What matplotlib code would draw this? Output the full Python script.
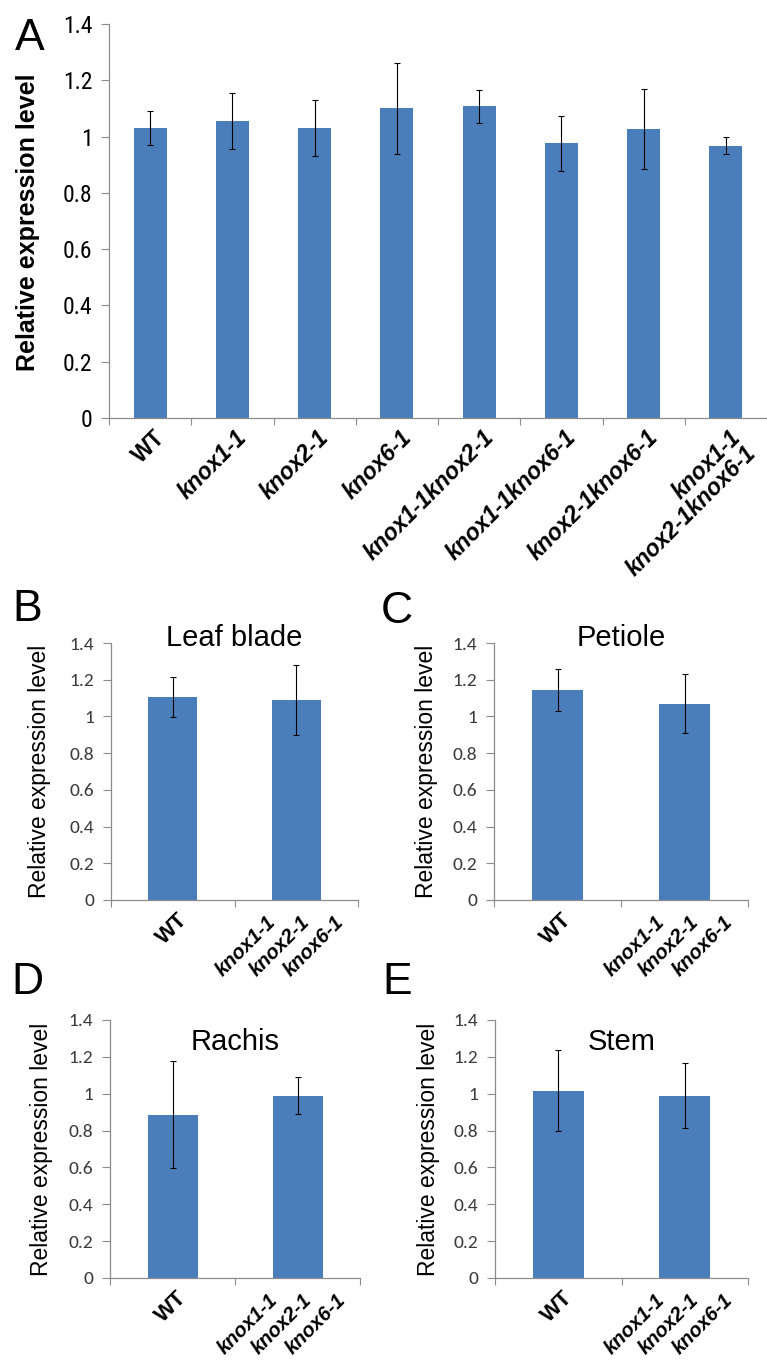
import matplotlib
matplotlib.use("Agg")
import matplotlib.pyplot as plt
import matplotlib.transforms as mtransforms
from matplotlib import font_manager
import numpy as np

W, H = 767, 1362
BAR_COLOR = "#4a7ebb"
AXIS_COLOR = "#8c8c8c"

# panel A: whole seedlings, all genotypes
a_labels = ["WT", "knox1-1", "knox2-1", "knox6-1", "knox1-1knox2-1",
            "knox1-1knox6-1", "knox2-1knox6-1", "knox1-1\nknox2-1knox6-1"]
a_values = [1.03, 1.055, 1.03, 1.10, 1.107, 0.976, 1.026, 0.967]
a_errors = [0.06, 0.10, 0.10, 0.163, 0.06, 0.097, 0.142, 0.03]

# panels B-E: WT vs triple mutant per tissue
tissue_labels = ["WT", "knox1-1\nknox2-1\nknox6-1"]
leaf_values = [1.105, 1.088]
leaf_errors = [0.11, 0.19]
petiole_values = [1.145, 1.07]
petiole_errors = [0.115, 0.16]
rachis_values = [0.885, 0.99]
rachis_errors = [0.29, 0.10]
stem_values = [1.015, 0.99]
stem_errors = [0.22, 0.175]

yticks = [0, 0.2, 0.4, 0.6, 0.8, 1.0, 1.2, 1.4]


def pick(*names):
    have = {f.name for f in font_manager.fontManager.ttflist}
    for n in names:
        if n in have:
            return n
    return "DejaVu Sans"


SANS = pick("Liberation Sans", "Arial", "DejaVu Sans")
NARROW = pick("Liberation Sans Narrow", "Roboto Condensed", "Liberation Sans")
CALIBRI = pick("Carlito", "Calibri", "Lato", "Open Sans")

fig = plt.figure(figsize=(W / 100, H / 100), dpi=100)


def px_axes(left, top, right, bottom):
    return fig.add_axes([left / W, 1 - bottom / H, (right - left) / W, (bottom - top) / H])


def style_axes(ax, n, tick_font, tick_size, tick_color):
    for s in ("top", "right"):
        ax.spines[s].set_visible(False)
    for s in ("left", "bottom"):
        ax.spines[s].set_color(AXIS_COLOR)
        ax.spines[s].set_linewidth(0.9)
    ax.set_ylim(0, 1.4)
    ax.set_yticks(yticks)
    ax.set_yticklabels([f"{v:g}" for v in yticks], fontfamily=tick_font,
                       fontsize=tick_size, color=tick_color)
    ax.tick_params(axis="y", length=6, width=0.8, color=AXIS_COLOR, pad=6)
    ax.set_xlim(-0.5, n - 0.5)
    ax.set_xticks(np.arange(n + 1) - 0.5)
    ax.set_xticklabels([])
    ax.tick_params(axis="x", length=5, width=0.8, color=AXIS_COLOR)


def draw_bars(ax, values, errors):
    x = np.arange(len(values))
    ax.bar(x, values, width=0.4, color=BAR_COLOR, zorder=2,
           yerr=errors, error_kw=dict(ecolor="black", elinewidth=0.8,
                                      capsize=2.5, capthick=0.8, zorder=3))


def xlabels_a(ax, labels, size):
    for i, lab in enumerate(labels):
        tr = mtransforms.offset_copy(ax.get_xaxis_transform(), fig=fig,
                                     x=3, y=-8, units="dots")
        italic = "normal" if lab == "WT" else "italic"
        ax.text(i, 0, lab, transform=tr, rotation=45, rotation_mode="anchor",
                ha="right", va="top", ma="right", fontfamily=SANS,
                fontweight="bold", fontstyle=italic, fontsize=size,
                linespacing=0.95, clip_on=False)


def xlabels_tissue(ax, labels, size, step=34):
    # multi-line labels are laid out side by side, each line rotated
    for i, lab in enumerate(labels):
        lines = lab.split("\n")
        single = len(lines) == 1
        dy = -9 if single else -12
        for j, line in enumerate(lines):
            dx = (j - (len(lines) - 1) / 2) * step
            tr = mtransforms.offset_copy(ax.get_xaxis_transform(), fig=fig,
                                         x=dx + 4, y=dy, units="dots")
            ax.text(i, 0, line, transform=tr, rotation=45, rotation_mode="anchor",
                    ha="right", va="top", fontfamily=SANS, fontweight="bold",
                    fontstyle="normal" if single else "italic",
                    fontsize=size + 1.5 if single else size, clip_on=False)


def fig_text(x, y, s, **kw):
    fig.text(x / W, 1 - y / H, s, **kw)


# ---- panel A
axA = px_axes(109, 24, 767, 418)
style_axes(axA, len(a_values), NARROW, 17, "black")
draw_bars(axA, a_values, a_errors)
xlabels_a(axA, a_labels, 16.5)
fig_text(28, 222, "Relative expression level", rotation=90, ha="center", va="center",
         fontfamily=SANS, fontweight="bold", fontsize=18)
fig_text(30, 38, "A", ha="center", va="center", fontfamily=SANS, fontsize=32)

# ---- panels B-E
panels = [
    ("B", "Leaf blade", leaf_values, leaf_errors, (111, 643, 358, 900), 1.02, (27, 610), 40),
    ("C", "Petiole", petiole_values, petiole_errors, (494, 643, 748, 900), 1.02, (397, 612), 427),
    ("D", "Rachis", rachis_values, rachis_errors, (110, 1020, 360, 1278), 0.915, (27, 983), 42),
    ("E", "Stem", stem_values, stem_errors, (495, 1020, 748, 1278), 0.915, (397, 982), 428),
]
for letter, title, vals, errs, box, title_y, letter_xy, ylab_x in panels:
    ax = px_axes(*box)
    style_axes(ax, len(vals), CALIBRI, 14, "#3a3a3a")
    draw_bars(ax, vals, errs)
    xlabels_tissue(ax, tissue_labels, 14.5)
    ax.text(0.5, title_y, title, transform=ax.transAxes, ha="center", va="center",
            fontfamily=SANS, fontsize=21)
    fig_text(ylab_x, (box[1] + box[3]) / 2, "Relative expression level", rotation=90,
             ha="center", va="center", fontfamily=SANS, fontsize=16.5)
    fig_text(letter_xy[0], letter_xy[1], letter, ha="center", va="center",
             fontfamily=SANS, fontsize=32)

fig.savefig("out.png", dpi=100)
